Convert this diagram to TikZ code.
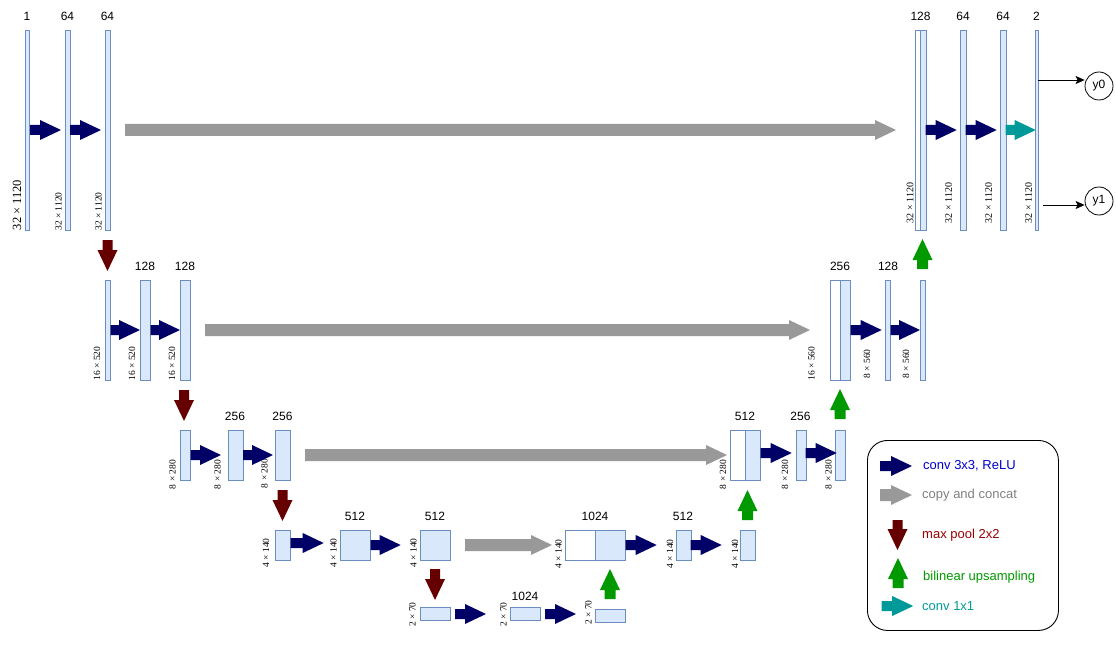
\documentclass[tikz,border=0pt]{standalone}
\usepackage{fontspec}
\newfontfamily\arialf{Liberation Sans}
\newfontfamily\timesf{Liberation Serif}
\usetikzlibrary{arrows.meta}
\definecolor{barfill}{HTML}{DAE8FC}
\definecolor{barline}{HTML}{6C8EBF}
\definecolor{convblue}{HTML}{000066}
\definecolor{copygrey}{HTML}{999999}
\definecolor{poolred}{HTML}{660000}
\definecolor{upgreen}{HTML}{009900}
\definecolor{oneteal}{HTML}{009999}
\definecolor{tblue}{HTML}{0000CC}
\definecolor{tgrey}{HTML}{808080}
\definecolor{tred}{HTML}{990000}
% block arrow: style, x, y, angle, length, body half width
\newcommand\blk[6]{\fill[#1,shift={(#2,#3)},rotate=#4] (0,-#6) -- ({#5-21},-#6) -- ({#5-21},-10) -- (#5,0) -- ({#5-21},10) -- ({#5-21},#6) -- (0,#6) -- cycle;}
\begin{document}
\begin{tikzpicture}[x=1pt,y=-1pt,
  bar/.style={draw=barline,fill=barfill,line width=0.9pt,inner sep=0pt,anchor=north west},
  wbar/.style={bar,fill=white},
  num/.style={font=\arialf\fontsize{12}{14}\selectfont,inner sep=0pt},
  dim/.style={font=\timesf\fontsize{9.5}{11}\selectfont,rotate=90,inner sep=0pt},
  dimbig/.style={dim,font=\timesf\fontsize{12.5}{14}\selectfont},
  dimmid/.style={dim,font=\timesf\fontsize{10}{11}\selectfont},
  convA/.style={fill=convblue},
  copyA/.style={fill=copygrey},
  poolA/.style={fill=poolred},
  upA/.style={fill=upgreen},
  oneA/.style={fill=oneteal},
  outnode/.style={draw,circle,line width=0.8pt,minimum size=28pt,inner sep=0pt,font=\arialf\fontsize{12}{14}\selectfont},
  outarrow/.style={line width=0.8pt,-{Stealth[length=9pt,width=8pt,inset=2pt]}},
  legtext/.style={font=\arialf\fontsize{13}{15}\selectfont,anchor=west,inner sep=0pt}]
\useasboundingbox (0,0) rectangle (1116,655);

% ---------- row 1 ----------
\node[bar,minimum width=3.5pt,minimum height=200pt] (a1) at (25,30) {};
\node[bar,minimum width=5pt,minimum height=200pt] (a2) at (65,30) {};
\node[bar,minimum width=5pt,minimum height=200pt] (a3) at (105,30) {};
\node[wbar,minimum width=5pt,minimum height=200pt] (o1w) at (915,30) {};
\node[bar,minimum width=5.5pt,minimum height=200pt] (o1) at (920,30) {};
\node[bar,minimum width=5.5pt,minimum height=200pt] (o2) at (960,30) {};
\node[bar,minimum width=5.5pt,minimum height=200pt] (o3) at (1000,30) {};
\node[bar,minimum width=3pt,minimum height=200pt] (o4) at (1035,30) {};
\node[num] (na1) at (27,16) {1};
\node[num] (na2) at (67.5,16) {64};
\node[num] (na3) at (107.5,16) {64};
\node[num] (no1) at (920.5,16) {128};
\node[num] (no2) at (963,16) {64};
\node[num] (no3) at (1003,16) {64};
\node[num] (no4) at (1036.5,16) {2};
\node[dimbig] (da1) at (17,205) {32 × 1120};
\node[dim] (da2) at (58.5,211.5) {32 × 1120};
\node[dim] (da3) at (98.5,211.5) {32 × 1120};
\node[dimmid] (do1) at (910,203) {32 × 1120};
\node[dimmid] (do2) at (948.5,203) {32 × 1120};
\node[dimmid] (do3) at (988.5,203) {32 × 1120};
\node[dimmid] (do4) at (1028.5,203) {32 × 1120};
\node[outnode] (y0) at (1099,86) {y0};
\node[outnode] (y1) at (1099,201) {y1};
\coordinate (y0in) at (1038,80);
\coordinate (y1in) at (1043,205);
\draw[outarrow] (y0in) -- (y0in -| y0.west);
\draw[outarrow] (y1in) -- (y1in -| y1.west);

% ---------- row 2 ----------
\node[bar,minimum width=5pt,minimum height=100pt] (b1) at (105,280) {};
\node[bar,minimum width=10pt,minimum height=100pt] (b2) at (140,280) {};
\node[bar,minimum width=10pt,minimum height=100pt] (b3) at (180,280) {};
\node[wbar,minimum width=10pt,minimum height=100pt] (p1w) at (830,280) {};
\node[bar,minimum width=10pt,minimum height=100pt] (p1) at (840,280) {};
\node[bar,minimum width=5pt,minimum height=100pt] (p2) at (885,280) {};
\node[bar,minimum width=5pt,minimum height=100pt] (p3) at (920,280) {};
\node[num] (nb2) at (145,266) {128};
\node[num] (nb3) at (185,266) {128};
\node[num] (np1) at (840,266) {256};
\node[num] (np2) at (888,266) {128};
\node[dim] (db1) at (97,363.5) {16 × 520};
\node[dim] (db2) at (132,363.5) {16 × 520};
\node[dim] (db3) at (172,363.5) {16 × 520};
\node[dim] (dp1) at (811.5,363.5) {16 × 560};
\node[dim] (dp2) at (867,364) {8 × 560};
\node[dim] (dp3) at (906,364) {8 × 560};

% ---------- row 3 ----------
\node[bar,minimum width=10pt,minimum height=50pt] (c1) at (180,430) {};
\node[bar,minimum width=15pt,minimum height=50pt] (c2) at (227.5,430) {};
\node[bar,minimum width=15pt,minimum height=50pt] (c3) at (275,430) {};
\node[wbar,minimum width=15pt,minimum height=50pt] (q1w) at (730,430) {};
\node[bar,minimum width=15pt,minimum height=50pt] (q1) at (745,430) {};
\node[bar,minimum width=10pt,minimum height=50pt] (q2) at (795.5,430) {};
\node[bar,minimum width=10pt,minimum height=50pt] (q3) at (835,430) {};
\node[num] (nc2) at (235,416) {256};
\node[num] (nc3) at (282.5,416) {256};
\node[num] (nq1) at (745,416) {512};
\node[num] (nq2) at (800.5,416) {256};
\node[dim] (dc1) at (172.5,474.5) {8 × 280};
\node[dim] (dc2) at (217.5,474.5) {8 × 280};
\node[dim] (dc3) at (264.5,473.5) {8 × 280};
\node[dim] (dq1) at (723,474.5) {8 × 280};
\node[dim] (dq2) at (785,474.5) {8 × 280};
\node[dim] (dq3) at (828.5,474.5) {8 × 280};

% ---------- row 4 ----------
\node[bar,minimum width=15pt,minimum height=30pt] (e1) at (275,530) {};
\node[bar,minimum width=30pt,minimum height=30pt] (e2) at (340,530) {};
\node[bar,minimum width=30pt,minimum height=30pt] (e3) at (420,530) {};
\node[wbar,minimum width=30pt,minimum height=30pt] (r1w) at (565,530) {};
\node[bar,minimum width=30pt,minimum height=30pt] (r1) at (595,530) {};
\node[bar,minimum width=15pt,minimum height=30pt] (r2) at (675.5,530) {};
\node[bar,minimum width=15pt,minimum height=30pt] (r3) at (740,530) {};
\node[num] (ne2) at (355,516) {512};
\node[num] (ne3) at (435,516) {512};
\node[num] (nr1) at (595,516) {1024};
\node[num] (nr2) at (683,516) {512};
\node[dim] (de1) at (266,553) {4 × 140};
\node[dim] (de2) at (333.5,553) {4 × 140};
\node[dim] (de3) at (413.5,553) {4 × 140};
\node[dim] (dr1) at (558.5,554) {4 × 140};
\node[dim] (dr2) at (670,554) {4 × 140};
\node[dim] (dr3) at (735,554) {4 × 140};

% ---------- row 5 ----------
\node[bar,minimum width=30pt,minimum height=13pt] (f1) at (420,607) {};
\node[bar,minimum width=30pt,minimum height=13pt] (f2) at (510,607) {};
\node[bar,minimum width=30pt,minimum height=13pt] (f3) at (595,609) {};
\node[num] (nf2) at (525,596) {1024};
\node[dim] (df1) at (412.5,614.5) {2 × 70};
\node[dim] (df2) at (503.5,614.5) {2 × 70};
\node[dim] (df3) at (588.5,612.5) {2 × 70};

% ---------- conv 3x3 arrows ----------
\blk{convA}{30}{130}{0}{31}{5}
\blk{convA}{70}{130}{0}{31}{5}
\blk{convA}{925.7}{130}{0}{31}{5}
\blk{convA}{965.7}{130}{0}{31}{5}
\blk{convA}{110.7}{330}{0}{29.3}{5}
\blk{convA}{150.7}{330}{0}{29.3}{5}
\blk{convA}{850.7}{330}{0}{31}{5}
\blk{convA}{890.7}{330}{0}{29.3}{5}
\blk{convA}{190.7}{455}{0}{30.3}{5}
\blk{convA}{243}{455}{0}{30}{5}
\blk{convA}{760.7}{453}{0}{31}{5}
\blk{convA}{805.7}{453}{0}{31}{5}
\blk{convA}{290.7}{543}{0}{33}{5}
\blk{convA}{370.7}{545}{0}{30}{5}
\blk{convA}{625.7}{545}{0}{31}{5}
\blk{convA}{690.7}{545}{0}{31}{5}
\blk{convA}{455}{614}{0}{31}{5}
\blk{convA}{545}{614}{0}{31}{5}
% conv 1x1
\blk{oneA}{1005.7}{130}{0}{30}{5}
% copy and concat
\blk{copyA}{125}{130}{0}{771}{6}
\blk{copyA}{205}{330}{0}{605}{6}
\blk{copyA}{305}{455}{0}{422}{6}
\blk{copyA}{465}{545}{0}{87}{6}
% max pool
\blk{poolA}{107.5}{240}{-90}{31}{5}
\blk{poolA}{184}{390}{-90}{31}{5}
\blk{poolA}{282.5}{490}{-90}{31}{5}
\blk{poolA}{435}{569}{-90}{31}{5}
% upsampling
\blk{upA}{610}{599}{90}{30}{5.5}
\blk{upA}{747.5}{520}{90}{30}{5.5}
\blk{upA}{840}{419}{90}{30}{5.5}
\blk{upA}{922.5}{269}{90}{30}{5.5}

% ---------- legend ----------
\node[draw,rounded corners=20pt,line width=0.9pt,minimum width=191pt,minimum height=190pt,anchor=north west,inner sep=0pt] (legend) at (867,440) {};
\blk{convA}{880}{466}{0}{32}{5}
\blk{copyA}{880}{495}{0}{32}{6}
\blk{poolA}{897.5}{520}{-90}{30}{5}
\blk{upA}{898}{588}{90}{30}{5.5}
\blk{oneA}{881.7}{606}{0}{31.5}{5}
\node[legtext,text=tblue] (lt1) at (923,466) {conv 3x3, ReLU};
\node[legtext,text=tgrey] (lt2) at (922,495) {copy and concat};
\node[legtext,text=tred] (lt3) at (922,535) {max pool 2x2};
\node[legtext,text=upgreen] (lt4) at (923,577) {bilinear upsampling};
\node[legtext,text=oneteal] (lt5) at (922,606) {conv 1x1};
\end{tikzpicture}
\end{document}
